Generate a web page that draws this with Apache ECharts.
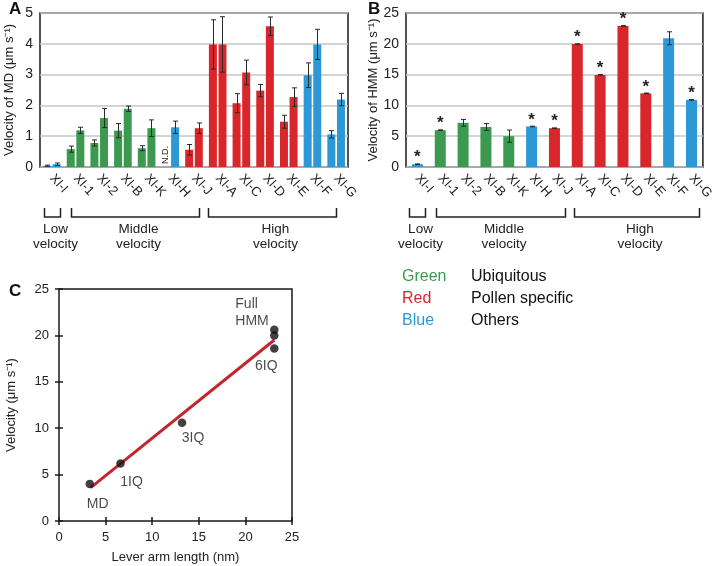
<!DOCTYPE html>
<html><head><meta charset="utf-8">
<script src="https://cdn.jsdelivr.net/npm/echarts@6/dist/echarts.min.js"></script>
<style>html,body{margin:0;padding:0;background:#fff}#c{width:716px;height:566px}</style>
</head><body><div id="c"></div>
<script>
// ---------- data ----------
const categories = ['XI-I','XI-1','XI-2','XI-B','XI-K','XI-H','XI-J','XI-A','XI-C','XI-D','XI-E','XI-F','XI-G'];
const groupOf = ['Others','Ubiquitous','Ubiquitous','Ubiquitous','Ubiquitous','Others','Pollen specific','Pollen specific','Pollen specific','Pollen specific','Pollen specific','Others','Others'];
const mdFirst = [0.04,0.58,0.78,1.18,0.61,null,0.56,3.98,2.07,2.48,1.47,2.98,1.06];
const mdFirstErr = [0.02,0.1,0.1,0.23,0.08,null,0.17,0.8,0.31,0.2,0.21,0.4,0.12];
const mdSecond = [0.09,1.19,1.59,1.89,1.26,1.29,1.26,3.98,3.07,4.57,2.27,3.98,2.19];
const mdSecondErr = [0.04,0.1,0.31,0.09,0.27,0.2,0.17,0.9,0.4,0.3,0.3,0.49,0.2];
const hmm = [0.45,5.98,7.17,6.5,5.0,6.58,6.3,19.95,14.95,22.9,11.96,20.9,10.9];
const hmmErr = [0.05,0.05,0.55,0.55,1.0,0.05,0.05,0.05,0.05,0.05,0.05,1.05,0.05];
const hmmStar = [1,1,0,0,0,1,1,1,1,1,1,0,1];
const mdTicks = [0,1,2,3,4,5];
const hmmTicks = [0,5,10,15,20,25];
const velocityGroups = [
  {name:'Low\nvelocity', from:0, to:0},
  {name:'Middle\nvelocity', from:1, to:6},
  {name:'High\nvelocity', from:7, to:12}
];
const legendRows = [['Green','Ubiquitous'],['Red','Pollen specific'],['Blue','Others']];
const leverPoints = [[3.3,4.0],[6.6,6.2],[13.2,10.6],[23.1,18.6],[23.1,20.0],[23.1,20.6]];
const leverLabels = ['MD','1IQ','3IQ','6IQ','','Full\nHMM'];
const fitLine = [[3.4,3.6],[23.1,19.5]];

// ---------- styles ----------
const FONT = "'Liberation Sans', Arial, sans-serif";
const groupColor = {'Ubiquitous':'#3b9a4f','Pollen specific':'#d9262b','Others':'#2c98d6'};
const legendColor = {'Green':'#3b9a4f','Red':'#d9262b','Blue':'#2c98d6'};
const labelOffsets = {'MD':[8,20,'center'],'1IQ':[11,19,'center'],'3IQ':[11,16,'center'],'6IQ':[-8,18,'center'],'Full\nHMM':[-39,-17,'left']};
// bracket extents (in category units relative to category centers) per panel
const bracketExt = [
  [[-0.35,0.35],[-0.2,0.2],[-0.4,0.0]],
  [[-0.35,0.35],[-0.2,0.45],[-0.13,0.35]]
];

const chart = echarts.init(document.getElementById('c'), null, {renderer:'canvas'});

function errRender(vals, errs, offset, cap) {
  return function(params, api) {
    const i = params.dataIndex;
    const v = vals[i], e = errs[i];
    if (v == null || e == null) return null;
    const top = api.coord([i, v + e]);
    const bot = api.coord([i, Math.max(v - e, 0)]);
    const x = Math.round(top[0] + offset) + 0.5;
    const st = {stroke:'#2a2a2a', lineWidth:1};
    return {type:'group', children:[
      {type:'line', shape:{x1:x,y1:top[1],x2:x,y2:bot[1]}, style:st},
      {type:'line', shape:{x1:x-cap,y1:top[1],x2:x+cap,y2:top[1]}, style:st},
      {type:'line', shape:{x1:x-cap,y1:bot[1],x2:x+cap,y2:bot[1]}, style:st}
    ]};
  };
}

const barGrid = {show:true, borderColor:'#1a1a1a', borderWidth:1.5, backgroundColor:'transparent'};
function catAxis(gi) {
  return {type:'category', gridIndex:gi, data:categories, axisTick:{show:false},
    axisLine:{show:false},
    axisLabel:{rotate:-48, fontSize:13, color:'#222', fontFamily:FONT, margin:9, interval:0}};
}
function valAxis(gi, ticks, name, gap) {
  return {type:'value', gridIndex:gi, min:ticks[0], max:ticks[ticks.length-1], interval:ticks[1]-ticks[0],
    axisLine:{show:false}, axisTick:{show:false},
    splitLine:{show:true, lineStyle:{color:'#c6c6c6', width:1.5}},
    axisLabel:{fontSize:14, color:'#222', fontFamily:FONT, margin:7},
    name:name, nameLocation:'middle', nameGap:gap, nameRotate:90,
    nameTextStyle:{fontSize:13, color:'#222', fontFamily:FONT}};
}

const mdFirstData = mdFirst.map((v,i) => v == null
  ? {value:0, label:{show:true, formatter:'N.D.', rotate:90, position:'top', distance:3, align:'left', verticalAlign:'middle', fontSize:9, color:'#222', fontFamily:FONT}}
  : {value:v, itemStyle:{color:groupColor[groupOf[i]]}});
const mdSecondData = mdSecond.map((v,i) => ({value:v, itemStyle:{color:groupColor[groupOf[i]]}}));
const hmmData = hmm.map((v,i) => ({value:v, itemStyle:{color:groupColor[groupOf[i]]},
  label:{show:!!hmmStar[i], formatter:'*', position:'top', distance:-2, fontSize:17, fontWeight:'bold', color:'#222', fontFamily:FONT}}));

const scatterData = leverPoints.map((p,i) => {
  const lab = leverLabels[i];
  const d = {value:p};
  if (lab) {
    const o = labelOffsets[lab];
    d.label = {show:true, formatter:lab, position:'inside', offset:[o[0],o[1]], align:o[2], verticalAlign:'middle',
      fontSize:14, color:'#1a1a1a', fontFamily:FONT, lineHeight:17};
  }
  return d;
});

const option = {
  animation:false,
  backgroundColor:'#fff',
  textStyle:{fontFamily:FONT},
  grid:[
    Object.assign({left:40, top:13, width:308, height:154}, barGrid),
    Object.assign({left:406, top:13, width:302, height:154}, barGrid),
    Object.assign({left:59, top:289, width:233, height:232}, barGrid)
  ],
  xAxis:[
    catAxis(0), catAxis(1),
    {type:'value', gridIndex:2, min:0, max:25, interval:5, axisLine:{show:false},
     axisTick:{show:true, inside:true, length:4, lineStyle:{color:'#1a1a1a', width:1.5}},
     splitLine:{show:false}, axisLabel:{fontSize:13, color:'#222', fontFamily:FONT, margin:10},
     name:'Lever arm length (nm)', nameLocation:'middle', nameGap:30, nameTextStyle:{fontSize:13, color:'#222', fontFamily:FONT}},
    {type:'value', gridIndex:2, position:'top', min:0, max:25, interval:5, axisLine:{show:false},
     axisTick:{show:true, inside:true, length:4, lineStyle:{color:'#1a1a1a', width:1.5}},
     splitLine:{show:false}, axisLabel:{show:false}}
  ],
  yAxis:[
    valAxis(0, mdTicks, 'Velocity of MD (μm s⁻¹)', 24),
    valAxis(1, hmmTicks, 'Velocity of HMM (μm s⁻¹)', 19),
    {type:'value', gridIndex:2, min:0, max:25, interval:5, axisLine:{show:false},
     axisTick:{show:true, inside:true, length:4, lineStyle:{color:'#1a1a1a', width:1.5}},
     splitLine:{show:false}, axisLabel:{fontSize:13, color:'#222', fontFamily:FONT, margin:10},
     name:'Velocity (μm s⁻¹)', nameLocation:'middle', nameGap:41, nameRotate:90, nameTextStyle:{fontSize:13, color:'#222', fontFamily:FONT}},
    {type:'value', gridIndex:2, position:'right', min:0, max:25, interval:5, axisLine:{show:false},
     axisTick:{show:true, inside:true, length:4, lineStyle:{color:'#1a1a1a', width:1.5}},
     splitLine:{show:false}, axisLabel:{show:false}}
  ],
  series:[
    {type:'bar', xAxisIndex:0, yAxisIndex:0, data:mdFirstData, barWidth:8, barGap:'20%', z:2},
    {type:'bar', xAxisIndex:0, yAxisIndex:0, data:mdSecondData, barWidth:8, barGap:'20%', z:2},
    {type:'custom', xAxisIndex:0, yAxisIndex:0, data:mdFirst.map((v,i)=>[i,v]), renderItem:errRender(mdFirst, mdFirstErr, -4.8, 2.5), z:5, silent:true},
    {type:'custom', xAxisIndex:0, yAxisIndex:0, data:mdSecond.map((v,i)=>[i,v]), renderItem:errRender(mdSecond, mdSecondErr, 4.8, 2.5), z:5, silent:true},
    {type:'bar', xAxisIndex:1, yAxisIndex:1, data:hmmData, barWidth:11, z:2},
    {type:'custom', xAxisIndex:1, yAxisIndex:1, data:hmm.map((v,i)=>[i,v]), renderItem:errRender(hmm, hmmErr, 0, 2.5), z:5, silent:true},
    {type:'line', xAxisIndex:2, yAxisIndex:2, data:fitLine, showSymbol:false, lineStyle:{color:'#c1272d', width:3}, z:3},
    {type:'scatter', xAxisIndex:2, yAxisIndex:2, data:scatterData, symbolSize:8.5, itemStyle:{color:'#111'}, z:4}
  ]
};
chart.setOption(option);

// ---------- annotations ----------
const g = [];
const letterStyle = {fontSize:17, fontWeight:'bold', fill:'#111', fontFamily:FONT};
g.push({type:'text', left:9, top:1, style:Object.assign({text:'A'}, letterStyle)});
g.push({type:'text', left:368, top:1, style:Object.assign({text:'B'}, letterStyle)});
g.push({type:'text', left:9, top:283, style:Object.assign({text:'C'}, letterStyle)});

function px(v) { return Array.isArray(v) ? v[0] : v; }
[0,1].forEach(pi => {
  const c0 = px(chart.convertToPixel({xAxisIndex:pi}, categories[0]));
  const c1 = px(chart.convertToPixel({xAxisIndex:pi}, categories[1]));
  const bw = c1 - c0;
  velocityGroups.forEach((grp, k) => {
    const ext = bracketExt[pi][k];
    const x1 = Math.round(c0 + (grp.from + ext[0]) * bw) + 0.5;
    const x2 = Math.round(c0 + (grp.to + ext[1]) * bw) + 0.5;
    const yT = 208, yB = 217;
    g.push({type:'polyline', shape:{points:[[x1,yT],[x1,yB],[x2,yB],[x2,yT]]}, style:{stroke:'#222', lineWidth:1.5, fill:null}});
    g.push({type:'text', x:(x1+x2)/2 + 3, y:237, style:{text:grp.name, align:'center', verticalAlign:'middle', fontSize:13.5, lineHeight:15, fill:'#222', fontFamily:FONT}});
  });
});

legendRows.forEach((r, i) => {
  const y = 277 + i * 22;
  g.push({type:'text', x:402, y:y, style:{text:r[0], fill:legendColor[r[0]], fontSize:16, verticalAlign:'middle', fontFamily:FONT}});
  g.push({type:'text', x:471, y:y, style:{text:r[1], fill:'#111', fontSize:16, verticalAlign:'middle', fontFamily:FONT}});
});
chart.setOption({graphic:g});
</script></body></html>
